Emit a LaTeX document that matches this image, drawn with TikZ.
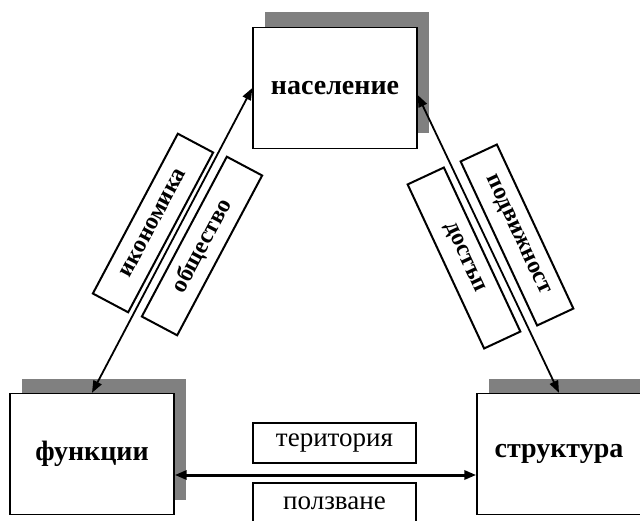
\documentclass[tikz,border=0pt]{standalone}
\usepackage{fontspec}
\setmainfont{Liberation Serif}
\usetikzlibrary{arrows.meta,shadows}

\begin{document}
\begin{tikzpicture}[x=1pt, y=-1pt, >={Triangle[length=12pt,width=9pt]},
  main/.style = {draw, line width=1.4pt, fill=white, minimum width=164pt, minimum height=121pt,
    font=\fontsize{28}{32}\selectfont\bfseries,
    drop shadow={shadow xshift=12pt, shadow yshift=15pt, fill=gray, opacity=1}},
  tag/.style = {draw, line width=2pt, minimum width=181pt, minimum height=40pt,
    font=\fontsize{24}{28}\selectfont\bfseries},
  flat/.style = {draw, line width=1.4pt, minimum width=163pt, minimum height=40pt,
    font=\fontsize{27}{30}\selectfont}]
\useasboundingbox (0,0) rectangle (640,521);
\node[main] (1) at (335,88) {население};
\node[main] (2) at (92,454) {функции};
\node[main] (3) at (559,454) {структура};
\node[tag, rotate=62] (4) at (153,223) {икономика};
\node[tag, rotate=62] (5) at (202,246) {общество};
\node[tag, rotate=-65] (6) at (464,258) {достъп};
\node[tag, rotate=-65] (7) at (517,235) {подвижност};
\node[flat] (8) at (334.5,443) {територия};
\node[flat] (9) at (334.5,503) {ползване};
\draw[<->, line width=1.8pt] (1.west) -- (2.north);
\draw[<->, line width=1.8pt] ([yshift=-7pt]1.east) -- (3.north);
\draw[<->, line width=3pt] ([yshift=-21pt]2.east) -- ([yshift=-21pt]3.west);
\end{tikzpicture}
\end{document}
